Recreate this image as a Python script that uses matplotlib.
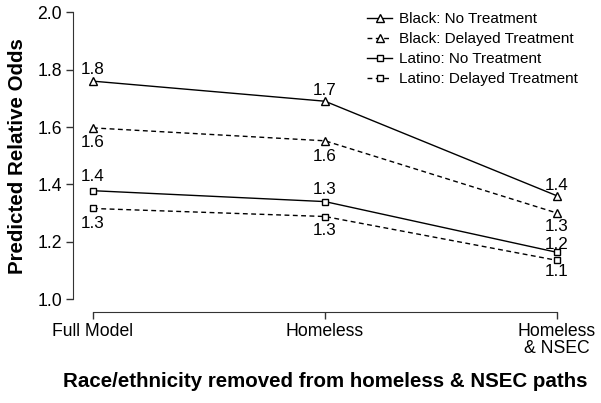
import matplotlib
matplotlib.use("Agg")
import matplotlib.pyplot as plt

plt.rcParams['font.family'] = ['Liberation Sans', 'DejaVu Sans']

categories = ["Full Model", "Homeless", "Homeless\n& NSEC"]
series_names = ["Black: No Treatment", "Black: Delayed Treatment",
                "Latino: No Treatment", "Latino: Delayed Treatment"]
black_no = [1.76, 1.69, 1.36]
black_delayed = [1.597, 1.552, 1.30]
latino_no = [1.378, 1.34, 1.163]
latino_delayed = [1.316, 1.288, 1.135]
yticks = [1.0, 1.2, 1.4, 1.6, 1.8, 2.0]

series = [black_no, black_delayed, latino_no, latino_delayed]
markers = ['^', '^', 's', 's']
msizes = [5.5, 5.5, 4.0, 4.0]
styles = ['-', (0, (3.5, 2.5)), '-', (0, (3.5, 2.5))]
# label offsets in pixels (layout only)
label_offsets = [[12, 11, 10], [-15, -16, -13], [14, 12, 8], [-15, -14, -11]]

fig = plt.figure(figsize=(6.01, 4.03), dpi=100)
ax = fig.add_axes([73/601, 1-312/403, (577-73)/601, 312/403])
x = [1, 2, 3]
for vals, m, ms, ls, offs, name in zip(series, markers, msizes, styles, label_offsets, series_names):
    ax.plot(x, vals, color='black', lw=1, linestyle=ls, marker=m, ms=ms,
            mfc='white', mec='black', mew=1, label=name)
    for xi, v, o in zip(x, vals, offs):
        ax.annotate(f"{v:.1f}", (xi, v), xytext=(0, o),
                    textcoords='offset pixels',
                    ha='center', va='center', fontsize=12.3)

ax.set_xlim(1 - 0.086, 3 + 0.086)
ax.set_ylim(0.955, 2.043)
for s in ['top', 'right']:
    ax.spines[s].set_visible(False)
ax.spines['left'].set_bounds(1.0, 2.0)
ax.spines['bottom'].set_bounds(1, 3)
ax.spines['left'].set_color('#333333')
ax.spines['bottom'].set_color('#333333')
ax.set_yticks(yticks)
ax.set_yticklabels([f"{t:.1f}" for t in yticks], fontsize=12.7)
ax.set_xticks(x)
ax.set_xticklabels(categories, fontsize=12.7, linespacing=1.0)
ax.tick_params(axis='both', length=5, width=1, color='#333333', pad=3)
ax.set_ylabel("Predicted Relative Odds", fontsize=14.8, fontweight='bold', labelpad=7)
ax.set_xlabel("Race/ethnicity removed from homeless & NSEC paths", fontsize=14.8,
              fontweight='bold', labelpad=11)

leg = ax.legend(loc='upper right', bbox_to_anchor=(578/601, 1-12/403),
                bbox_transform=fig.transFigure, frameon=False,
                fontsize=11, handlelength=1.65, handletextpad=0.45,
                labelspacing=0.4, borderaxespad=0, borderpad=0)

fig.savefig("out.png", dpi=100)
